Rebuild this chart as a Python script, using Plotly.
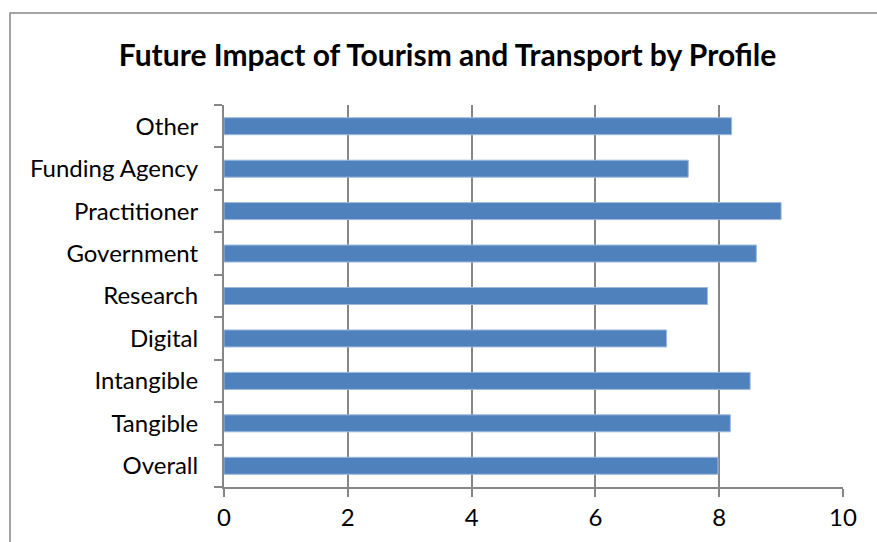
import plotly.graph_objects as go

categories = ["Overall", "Tangible", "Intangible", "Digital", "Research",
              "Government", "Practitioner", "Funding Agency", "Other"]
values = [7.98, 8.18, 8.50, 7.15, 7.81, 8.60, 9.00, 7.50, 8.20]
x_ticks = [0, 2, 4, 6, 8, 10]
title_text = "Future Impact of Tourism and Transport by Profile"

FONT = "Lato, Open Sans, DejaVu Sans, sans-serif"
GRAY = "#868686"

fig = go.Figure(go.Bar(
    y=categories, x=values, orientation="h",
    marker=dict(color="#4F81BD", line=dict(color="#9DB9DB", width=1)),
))

fig.update_layout(
    width=877, height=542,
    margin=dict(l=224, r=34, t=105, b=55),
    paper_bgcolor="white", plot_bgcolor="white",
    bargap=0.6,
    showlegend=False,
    title=dict(text="<b>" + title_text + "</b>", xref="container", x=447.5 / 877,
               xanchor="center", y=1 - 55 / 542, yanchor="middle",
               font=dict(family=FONT, size=30, color="black")),
    font=dict(family=FONT, size=24, color="black"),
    shapes=[dict(type="rect", xref="paper", yref="paper",
                 x0=-214 / 619, x1=1.2, y0=-0.5, y1=1 + 92 / 382,
                 line=dict(color=GRAY, width=1.5), layer="below")],
)

fig.update_xaxes(
    range=[0, 10], tickvals=x_ticks, ticktext=[str(v) for v in x_ticks],
    showgrid=True, gridcolor=GRAY, gridwidth=1.5,
    showline=True, linecolor=GRAY, linewidth=2,
    ticks="outside", ticklen=8, tickcolor=GRAY, tickwidth=2,
    zeroline=False, tickfont=dict(size=24),
)
fig.update_yaxes(
    categoryorder="array", categoryarray=categories,
    showgrid=False, showline=True, linecolor=GRAY, linewidth=2,
    ticks="outside", ticklen=8, tickcolor=GRAY, tickwidth=2,
    tickson="boundaries", ticklabelstandoff=19, tickfont=dict(size=24),
)

fig.write_html("out.html")
